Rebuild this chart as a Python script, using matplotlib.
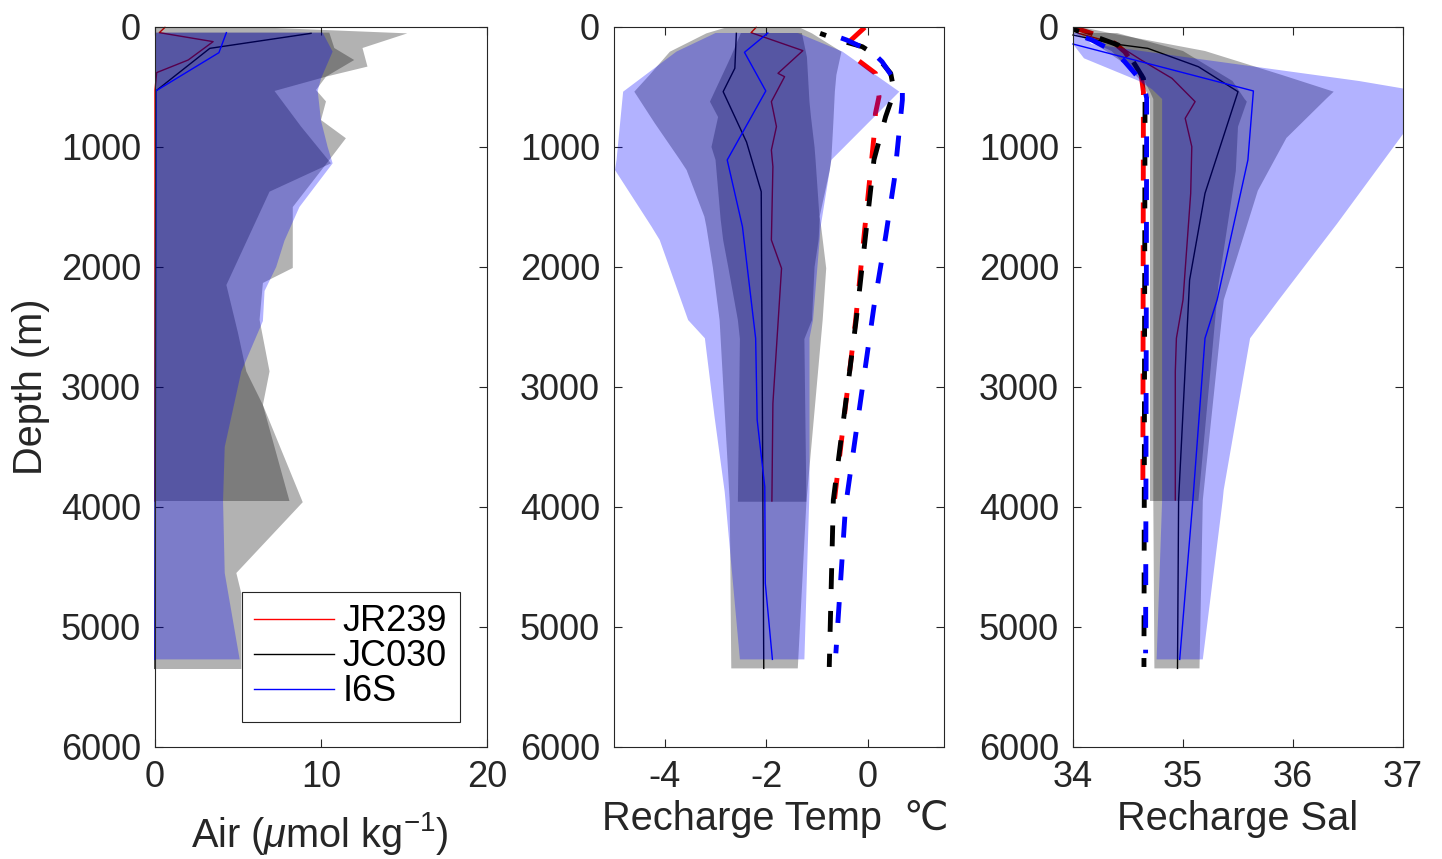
import matplotlib
matplotlib.use('Agg')
import matplotlib.pyplot as plt

plt.rcParams['font.family'] = ['Liberation Sans', 'DejaVu Sans']
plt.rcParams['mathtext.fontset'] = 'custom'
plt.rcParams['mathtext.rm'] = 'Liberation Sans'
plt.rcParams['mathtext.it'] = 'Liberation Sans:italic'
plt.rcParams['axes.unicode_minus'] = False

cruises = ['JR239', 'JC030', 'I6S']
line_colors = ['red', 'black', 'blue']
fill_colors = ['black', 'black', 'blue']

# ---------------- Panel 1 : Air ----------------
air_jr239_depth = [3, 47, 122, 275, 380, 525, 3950]
air_jr239_mean = [0.6, 0.26, 3.5, 2.0, 0.1, 0.0, 0.0]
air_jc030_depth = [53, 178, 533, 5345]
air_jc030_mean = [9.4, 3.3, 0.05, 0.0]
air_i6s_depth = [47, 214, 533, 5270]
air_i6s_mean = [4.3, 3.85, 0.05, 0.0]

air_fill_jr239_depth = [47, 175, 275, 414, 533, 830, 1136, 1372, 2150, 2550, 2870, 3150, 3950]
air_fill_jr239_lo = [0] * 13
air_fill_jr239_hi = [10.5, 10.8, 12.0, 10.3, 7.2, 8.8, 10.6, 6.9, 4.3, 5.0, 5.5, 6.5, 8.1]
air_fill_jc030_depth = [3, 53, 175, 330, 414, 525, 620, 775, 927, 1108, 1500, 2008, 2133,
                        2440, 2870, 3150, 3960, 4550, 4720, 5350]
air_fill_jc030_lo = [0] * 20
air_fill_jc030_hi = [6.3, 15.2, 12.5, 12.8, 10.3, 9.7, 10.3, 10.0, 11.5, 10.5, 8.3, 8.3, 6.5,
                     6.3, 6.9, 6.5, 8.9, 4.9, 5.2, 5.2]
air_fill_i6s_depth = [47, 205, 430, 533, 780, 1000, 1136, 1500, 1780, 2000, 2200, 2450, 2870,
                      3500, 3950, 4550, 5270]
air_fill_i6s_lo = [0] * 17
air_fill_i6s_hi = [10.1, 10.7, 10.0, 9.8, 10.0, 10.4, 10.7, 8.7, 7.8, 7.3, 6.6, 6.5, 5.2,
                   4.2, 4.1, 4.2, 5.1]

# ---------------- Panel 2 : Recharge temperature ----------------
temp_jr239_depth = [3, 47, 197, 386, 414, 622, 830, 1025, 1164, 1775, 2011, 3136, 3950]
temp_jr239_mean = [-2.2, -2.3, -1.28, -1.77, -1.64, -1.90, -1.80, -1.90, -1.87, -1.90, -1.70, -1.87, -1.89]
temp_jc030_depth = [53, 344, 539, 958, 1372, 5345]
temp_jc030_mean = [-2.59, -2.62, -2.85, -2.39, -2.10, -2.05]
temp_i6s_depth = [50, 211, 533, 1108, 1664, 2594, 3275, 3831, 4636, 5270]
temp_i6s_mean = [-1.97, -2.43, -2.01, -2.77, -2.47, -2.21, -2.18, -2.03, -2.02, -1.88]

temp_jr239_dash_depth = [3, 120, 275, 386, 580, 720, 914, 2442, 3950]
temp_jr239_dash = [-0.06, -0.36, -0.2, 0.15, 0.22, 0.15, 0.12, -0.24, -0.66]
temp_jc030_dash_depth = [53, 108, 164, 233, 386, 539, 747, 1108, 2442, 3942, 5333]
temp_jc030_dash = [-0.94, -0.58, -0.11, 0.15, 0.45, 0.52, 0.35, 0.12, -0.23, -0.68, -0.76]
temp_i6s_dash_depth = [53, 108, 206, 289, 539, 608, 858, 1275, 1747, 2330, 3997, 5219]
temp_i6s_dash = [-0.78, -0.42, 0.08, 0.28, 0.68, 0.68, 0.62, 0.52, 0.35, 0.12, -0.44, -0.63]

temp_fill_jr239_depth = [50, 250, 622, 750, 1000, 1108, 1600, 1775, 2000, 2442, 2600, 3956]
temp_fill_jr239_lo = [-2.5, -2.7, -3.11, -2.95, -3.08, -3.0, -2.9, -2.85, -2.75, -2.56, -2.52, -2.56]
temp_fill_jr239_hi = [-1.3, -1.2, -1.15, -1.12, -1.05, -1.03, -0.95, -0.97, -1.05, -1.1, -1.25, -1.21]
temp_fill_jc030_depth = [5, 53, 206, 400, 539, 800, 1108, 1192, 1580, 1664, 2011, 2442, 3956, 5345]
temp_fill_jc030_lo = [-2.8, -3.18, -3.9, -4.3, -4.6, -4.2, -3.7, -3.57, -3.22, -3.18, -3.05, -2.92, -2.72, -2.69]
temp_fill_jc030_hi = [-1.34, -1.1, -0.52, -0.62, -0.65, -0.68, -0.72, -0.75, -0.95, -0.92, -0.82, -0.89, -1.21, -1.38]
temp_fill_i6s_depth = [50, 205, 539, 1108, 1192, 1664, 1775, 2442, 2594, 3247, 3872, 5270]
temp_fill_i6s_lo = [-3.0, -3.77, -4.82, -4.95, -4.98, -4.26, -4.1, -3.54, -3.21, -3.02, -2.82, -2.52]
temp_fill_i6s_hi = [-1.38, -0.5, 0.62, -0.72, -0.75, -0.93, -0.95, -1.08, -1.15, -1.15, -1.15, -1.25]

# ---------------- Panel 3 : Recharge salinity ----------------
sal_jr239_depth = [53, 136, 275, 428, 622, 761, 997, 1386, 2275, 2594, 2872, 3942]
sal_jr239_mean = [34.05, 34.38, 34.62, 34.90, 35.11, 35.02, 35.08, 35.07, 35.0, 34.94, 34.93, 34.93]
sal_jc030_depth = [67, 142, 178, 331, 539, 1386, 2108, 3942, 5345]
sal_jc030_mean = [34.0, 34.38, 34.68, 35.14, 35.50, 35.2, 35.06, 34.96, 34.95]
sal_i6s_depth = [142, 261, 533, 1108, 2275, 2594, 3942, 5270]
sal_i6s_mean = [34.0, 34.5, 35.64, 35.59, 35.31, 35.2, 35.09, 34.97]

sal_jr239_dash_depth = [3, 53, 136, 206, 400, 539, 3950]
sal_jr239_dash = [34.0, 34.17, 34.38, 34.47, 34.62, 34.64, 34.635]
sal_jc030_dash_depth = [20, 70, 150, 219, 428, 539, 5333]
sal_jc030_dash = [34.0, 34.17, 34.41, 34.5, 34.64, 34.655, 34.645]
sal_i6s_dash_depth = [50, 108, 206, 289, 469, 594, 5219]
sal_i6s_dash = [34.0, 34.17, 34.38, 34.47, 34.64, 34.67, 34.66]

sal_fill_jr239_depth = [50, 200, 450, 600, 622, 831, 1200, 2164, 3950]
sal_fill_jr239_lo = [34.0, 34.35, 34.62, 34.70, 34.70, 34.70, 34.70, 34.70, 34.70]
sal_fill_jr239_hi = [34.4, 35.0, 35.45, 35.56, 35.58, 35.5, 35.48, 35.32, 35.14]
sal_fill_jc030_depth = [5, 53, 200, 400, 539, 600, 925, 1364, 2275, 3942, 5345]
sal_fill_jc030_lo = [34.0, 34.05, 34.3, 34.62, 34.70, 34.73, 34.73, 34.73, 34.73, 34.73, 34.74]
sal_fill_jc030_hi = [34.1, 34.35, 35.2, 35.9, 36.37, 36.3, 35.94, 35.68, 35.37, 35.18, 35.15]
sal_fill_i6s_depth = [50, 142, 261, 450, 520, 600, 830, 1640, 2275, 2594, 3858, 3950, 5270]
sal_fill_i6s_lo = [34.0, 34.0, 34.1, 34.6, 34.72, 34.81, 34.81, 34.81, 34.81, 34.81, 34.81, 34.81, 34.76]
sal_fill_i6s_hi = [34.05, 34.17, 35.1, 36.6, 37.05, 37.05, 37.05, 36.4, 35.87, 35.61, 35.37, 35.36, 35.18]

depth_ticks = [0, 1000, 2000, 3000, 4000, 5000, 6000]
air_ticks = [0, 10, 20]
temp_ticks = [-4, -2, 0]
sal_ticks = [34, 35, 36, 37]

# ---------------- Figure ----------------
W, H = 1442, 859
fig = plt.figure(figsize=(W / 100, H / 100), dpi=100)
axes_px = [(155, 487), (614, 944), (1073, 1403)]
top_px, bot_px = 27, 747
axs = []
for (l, r) in axes_px:
    ax = fig.add_axes([l / W, (H - bot_px) / H, (r - l) / W, (bot_px - top_px) / H])
    axs.append(ax)

axis_col = '#262626'
FS = 26
LFS = 28.6
DASH = (4.3, 4.5)


def draw_panel(ax, means, dashes, fills):
    z = 2
    for i in range(3):
        d, v = means[i]
        ax.plot(v, d, color=line_colors[i], lw=1.0, zorder=z, label=cruises[i],
                clip_on=False)
        z += 1
        if dashes is not None:
            dd, dv = dashes[i]
            ax.plot(dv, dd, color=line_colors[i], lw=3.5, zorder=z,
                    linestyle=(i * 3.0, DASH), dash_capstyle='butt')
            z += 1
        fd, flo, fhi = fills[i]
        ax.fill_betweenx(fd, flo, fhi, facecolor=fill_colors[i], alpha=0.3,
                         linewidth=0, zorder=z)
        z += 1


draw_panel(axs[0],
           [(air_jr239_depth, air_jr239_mean), (air_jc030_depth, air_jc030_mean),
            (air_i6s_depth, air_i6s_mean)],
           None,
           [(air_fill_jr239_depth, air_fill_jr239_lo, air_fill_jr239_hi),
            (air_fill_jc030_depth, air_fill_jc030_lo, air_fill_jc030_hi),
            (air_fill_i6s_depth, air_fill_i6s_lo, air_fill_i6s_hi)])

draw_panel(axs[1],
           [(temp_jr239_depth, temp_jr239_mean), (temp_jc030_depth, temp_jc030_mean),
            (temp_i6s_depth, temp_i6s_mean)],
           [(temp_jr239_dash_depth, temp_jr239_dash), (temp_jc030_dash_depth, temp_jc030_dash),
            (temp_i6s_dash_depth, temp_i6s_dash)],
           [(temp_fill_jr239_depth, temp_fill_jr239_lo, temp_fill_jr239_hi),
            (temp_fill_jc030_depth, temp_fill_jc030_lo, temp_fill_jc030_hi),
            (temp_fill_i6s_depth, temp_fill_i6s_lo, temp_fill_i6s_hi)])

draw_panel(axs[2],
           [(sal_jr239_depth, sal_jr239_mean), (sal_jc030_depth, sal_jc030_mean),
            (sal_i6s_depth, sal_i6s_mean)],
           [(sal_jr239_dash_depth, sal_jr239_dash), (sal_jc030_dash_depth, sal_jc030_dash),
            (sal_i6s_dash_depth, sal_i6s_dash)],
           [(sal_fill_jr239_depth, sal_fill_jr239_lo, sal_fill_jr239_hi),
            (sal_fill_jc030_depth, sal_fill_jc030_lo, sal_fill_jc030_hi),
            (sal_fill_i6s_depth, sal_fill_i6s_lo, sal_fill_i6s_hi)])

xlims = [(0, 20), (-5, 1.5), (34, 37)]
xticks = [air_ticks, temp_ticks, sal_ticks]
xlabels = [r'Air ($\mu$mol kg$^{\mathrm{-1}}$)', 'Recharge Temp  ℃', 'Recharge Sal']
xlabel_y = [-0.139, -0.115, -0.115]
xlabel_x = [0.497, 0.49, 0.5]

for k, ax in enumerate(axs):
    ax.set_xlim(*xlims[k])
    ax.set_ylim(6000, 0)
    ax.set_xticks(xticks[k])
    ax.set_yticks(depth_ticks)
    ax.tick_params(direction='in', length=6, width=0.8, top=True, right=True,
                   labelsize=FS, colors=axis_col)
    ax.tick_params(axis='x', pad=9.5)
    ax.tick_params(axis='y', pad=10)
    for s in ax.spines.values():
        s.set_color(axis_col)
        s.set_linewidth(0.8)
        s.set_zorder(30)
    ax.set_xlabel(xlabels[k], fontsize=LFS, color=axis_col, va='baseline')
    ax.xaxis.set_label_coords(xlabel_x[k], xlabel_y[k])

axs[0].set_ylabel('Depth (m)', fontsize=LFS, color=axis_col, va='center')
axs[0].yaxis.set_label_coords(-0.373, 0.5)

handles, labels = axs[0].get_legend_handles_labels()
leg = axs[0].legend(handles[:3], labels[:3], loc='lower right',
                    bbox_to_anchor=((460 - 155) / 332, (747 - 722) / 720),
                    fontsize=FS, frameon=True, fancybox=False, framealpha=1,
                    edgecolor=axis_col, handlelength=2.2, handletextpad=0.25,
                    labelspacing=0.0, borderpad=0.35, borderaxespad=0)
leg.get_frame().set_linewidth(0.8)
leg.set_zorder(40)

fig.savefig('out.png', dpi=100)
